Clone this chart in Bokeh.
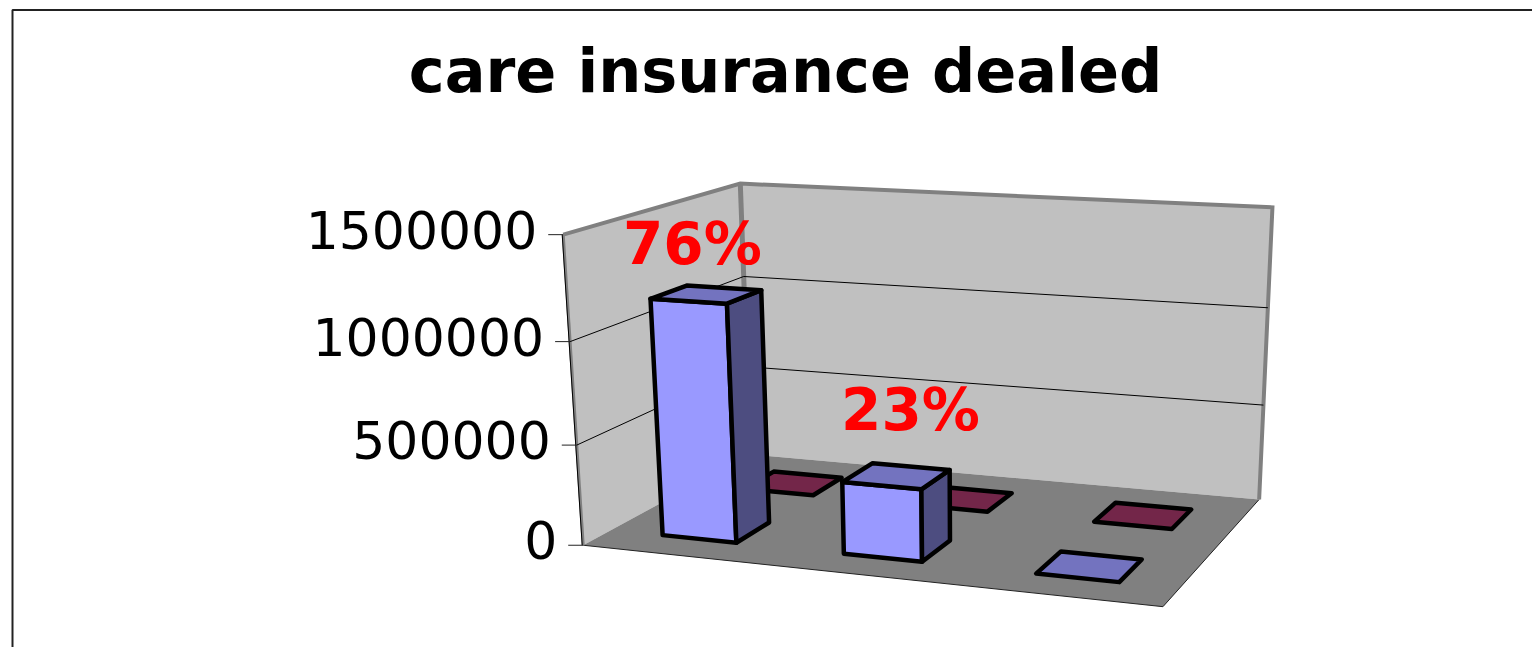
import numpy as np
from bokeh.plotting import figure
from bokeh.models import Range1d
from bokeh.core.properties import value as V
from bokeh.embed import file_html
from bokeh.resources import INLINE

title = "care insurance dealed"
tick_values = [0, 500000, 1000000, 1500000]
series_front = [1170000, 355000, 0]
series_back = [0, 0, 0]
labels = ["76%", "23%"]

# camera fit: box corners (x, depth, height) -> page pixels
W = [(0,0,0),(1,0,0),(1,1,0),(0,1,0),(0,0,1),(0,1,1),(1,1,1)]
S = [(580,546),(1162,606),(1258,499),(753,453),(566,233),(736,184),(1273,207)]
A = []; b = []
for (x,y,z),(u,v) in zip(W,S):
    A.append([x,y,z,1,0,0,0,0,-u*x,-u*y,-u*z]); b.append(u)
    A.append([0,0,0,0,x,y,z,1,-v*x,-v*y,-v*z]); b.append(v)
m = np.linalg.lstsq(np.array(A,float),np.array(b,float),rcond=None)[0]
P = np.append(m,1).reshape(3,4)
VMAX = tick_values[-1]
def proj(u,v,val=0):
    q = P@np.array([u,v,val/VMAX,1.0])
    return float(q[0]/q[2]), float(q[1]/q[2])
def poly(pts):
    xy = [proj(*t) for t in pts]
    return [c[0] for c in xy],[c[1] for c in xy]

p = figure(width=1532,height=647,output_backend="svg",toolbar_location=None,min_border=0,
           x_range=Range1d(0,1532),y_range=Range1d(647,0))
p.axis.visible = False; p.grid.visible = False; p.outline_line_color = None
p.background_fill_color = "white"; p.border_fill_color = "white"

# chart-area border (open to the right and bottom of the picture)
p.line([12,12,1532],[647,9.5,9.5],line_color="#222222",line_width=2)

WALL = "#c0c0c0"; EDGE = "#808080"
x,y = poly([(0,0,0),(0,1,0),(0,1,VMAX),(0,0,VMAX)])
p.patch(x,y,fill_color=WALL,line_color=None)
x,y = poly([(0,1,0),(1,1,0),(1,1,VMAX),(0,1,VMAX)])
p.patch(x,y,fill_color=WALL,line_color=None)
x,y = poly([(0,0,0),(1,0,0),(1,1,0),(0,1,0)])
p.patch(x,y,fill_color=EDGE,line_color=None)
# floor outline, front and right
x,y = poly([(0,0,0),(1,0,0),(1,1,0)])
p.line(x,y,line_color="#222222",line_width=1)

# wall rim
x,y = poly([(0,0,VMAX),(0,1,VMAX),(1,1,VMAX),(1,1,0)])
p.line(x,y,line_color=EDGE,line_width=4,line_join="miter")
x,y = poly([(0,1,VMAX),(0,1,0)])
p.line(x,y,line_color=EDGE,line_width=5)
x,y = poly([(0,0,VMAX),(0,0,0)])
p.line(x,y,line_color=EDGE,line_width=3)
x,y = poly([(0,0,VMAX),(0,0,0)])
p.line([c-1 for c in x],y,line_color="black",line_width=1)

# gridlines, ticks and value labels
for t in tick_values:
    if 0 < t < VMAX:
        x,y = poly([(0,0,t),(0,1,t),(1,1,t)])
        p.line(x,y,line_color="black",line_width=1)
    x0,y0 = proj(0,0,t)
    p.line([x0-15,x0],[y0,y0],line_color="#222222",line_width=1)
    p.text([x0-26],[y0-5],text=[str(t)],text_align="right",text_baseline="middle",
           text_font=V("DejaVu Sans"),text_font_size="52px",text_color="black")

BW = 0.069; BD = 0.1
def box(u,v,val,front,side,top):
    u0,u1,v0,v1 = u-BW,u+BW,v-BD,v+BD
    faces = []
    if val > 0:
        faces.append(([(u0,v0,0),(u1,v0,0),(u1,v0,val),(u0,v0,val)],front))
        faces.append(([(u1,v0,0),(u1,v1,0),(u1,v1,val),(u1,v0,val)],side))
    faces.append(([(u0,v0,val),(u1,v0,val),(u1,v1,val),(u0,v1,val)],top))
    for pts,c in faces:
        x,y = poly(pts)
        p.patch(x,y,fill_color=c,line_color="black",line_width=4.5,line_join="round")

for i,val in enumerate(series_back):
    box((i+.5)/3,0.74,val,"#993366","#4d1a33","#732649")
for i,val in enumerate(series_front):
    box((i+.5)/3,0.25,val,"#9999ff","#4d4d80","#7373bf")

# data labels
label_dx = [-14, 14]
label_dy = [-50, -66]
for i,lab in enumerate(labels):
    x0,y0 = proj((i+.5)/3,0.25,series_front[i])
    p.text([x0+label_dx[i]],[y0+label_dy[i]],text=[lab],text_align="center",text_baseline="middle",
           text_font=V("DejaVu Sans"),text_font_style="bold",text_font_size="58px",text_color="#ff0000")

p.text([785],[70],text=[title],text_align="center",text_baseline="middle",
       text_font=V("DejaVu Sans"),text_font_style="bold",text_font_size="60.5px",text_color="black")

open("out.html","w").write(file_html(p,INLINE))
